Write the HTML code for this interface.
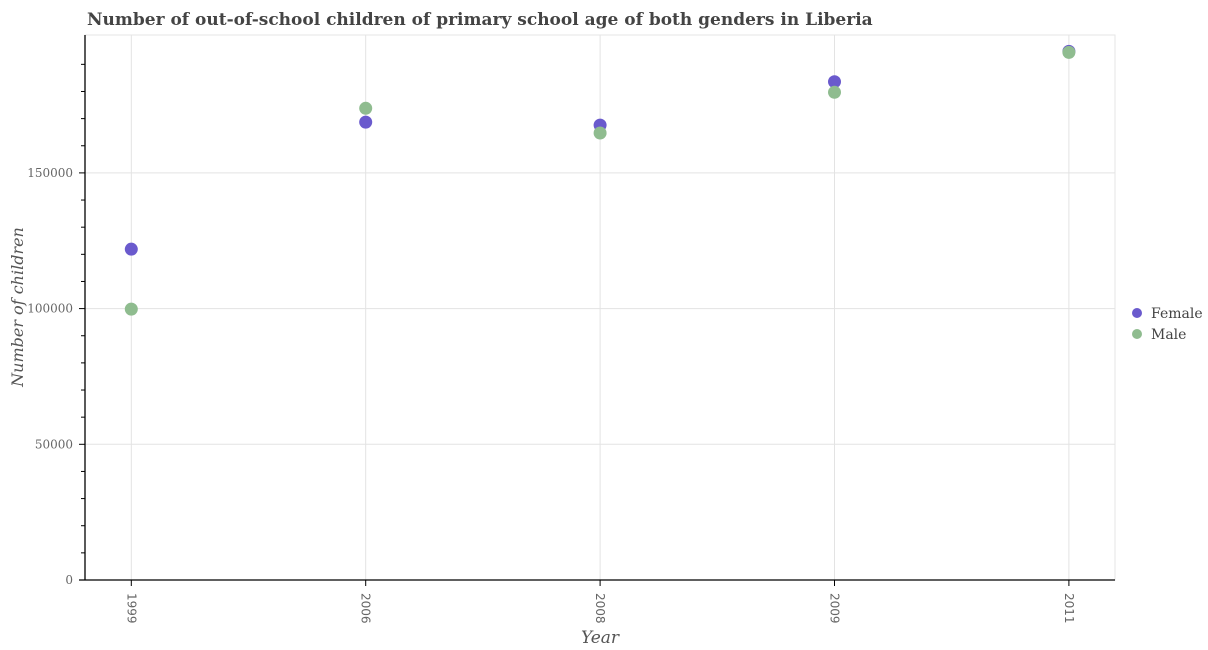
<!DOCTYPE html>
<html><head><meta charset="utf-8"><style>
html,body{margin:0;padding:0;background:#fff;}
svg{display:block;font-family:"DejaVu Serif","Liberation Serif",serif;}
</style></head><body>
<svg id="chart" width="1208" height="650">
<text x="87" y="25" font-size="17" font-weight="bold" fill="#444">Number of out-of-school children of primary school age of both genders in Liberia</text>
<g id="grid"></g>
<g id="axes"></g>
<g id="marks"></g>
<text transform="translate(23,307) rotate(-90)" text-anchor="middle" font-size="16" font-style="italic" fill="#555">Number of children</text>
<text x="600" y="643" text-anchor="middle" font-size="17" font-style="italic" fill="#555">Year</text>
<g>
<circle cx="1137" cy="313" r="5" fill="#6a5acd"></circle>
<text x="1151" y="318" font-size="14" fill="#444">Female</text>
<circle cx="1137" cy="334" r="5" fill="#8fbc8f"></circle>
<text x="1151" y="339" font-size="14" fill="#444">Male</text>
</g>
</svg>
<script>
const categories = ["1999","2006","2008","2009","2011"];
const female = [121900, 168700, 167600, 183600, 194800];
const male = [99800, 173800, 164700, 179700, 194400];
const yTicks = [0, 50000, 100000, 150000];
const NS = "http://www.w3.org/2000/svg";
const L = 85, R = 1115, T = 35, B = 580;
const yPerUnit = (580 - 444.3) / 50000;
function y(v){ return B - v * yPerUnit; }
function x(i){ return 131.3 + i * 234.4; }
function mk(tag, attrs, parent){ const e = document.createElementNS(NS, tag); for (const k in attrs) e.setAttribute(k, attrs[k]); parent.appendChild(e); return e; }
const grid = document.getElementById('grid'), axes = document.getElementById('axes'), marks = document.getElementById('marks');
let e;
e = mk('rect', {x:L, y:T, width:R-L, height:B-T, fill:'none', stroke:'#e6e6e6'}, grid);


yTicks.forEach(t => {
  const gl = mk('line', {x1:L, x2:R, y1:y(t), y2:y(t), stroke:'#e3e3e3'}, grid);
  
  
  const tk = mk('line', {x1:L-6, x2:L, y1:y(t), y2:y(t), stroke:'#000'}, axes);
  
  
  const lb = mk('text', {x:L-12, y:y(t)+4, 'text-anchor':'end', 'font-size':'12', fill:'#666'}, axes);
  lb.textContent = String(t);
  
  
});
for (let v = 10000; v <= 200000; v += 10000) {
  if (v % 50000 === 0) continue;
  const mt = mk('line', {x1:L-4, x2:L, y1:y(v), y2:y(v), stroke:'#000'}, axes);
  
  
}
categories.forEach((c, i) => {
  const gl = mk('line', {x1:x(i), x2:x(i), y1:T, y2:B, stroke:'#e3e3e3'}, grid);
  
  
  const tk = mk('line', {x1:x(i), x2:x(i), y1:B, y2:B+6, stroke:'#000'}, axes);
  
  
  const lb = mk('text', {transform:'translate(' + (x(i)-4) + ',' + (B+13) + ') rotate(90)', 'font-size':'12', fill:'#666', 'font-family':'"DejaVu Sans","Liberation Sans",sans-serif'}, axes);
  lb.textContent = c;
  
  
});
e = mk('line', {x1:L, x2:L, y1:T, y2:B, stroke:'#000', 'stroke-width':'1.3'}, axes);


e = mk('line', {x1:L-6, x2:R, y1:B, y2:B, stroke:'#000', 'stroke-width':'1.3'}, axes);


categories.forEach((c, i) => {
  const f = mk('circle', {cx:x(i), cy:y(female[i]), r:6.5, fill:'#6a5acd'}, marks);
  
  
});
categories.forEach((c, i) => {
  const m = mk('circle', {cx:x(i), cy:y(male[i]), r:6.5, fill:'#8fbc8f'}, marks);
  
  
});
</script>
</body></html>
